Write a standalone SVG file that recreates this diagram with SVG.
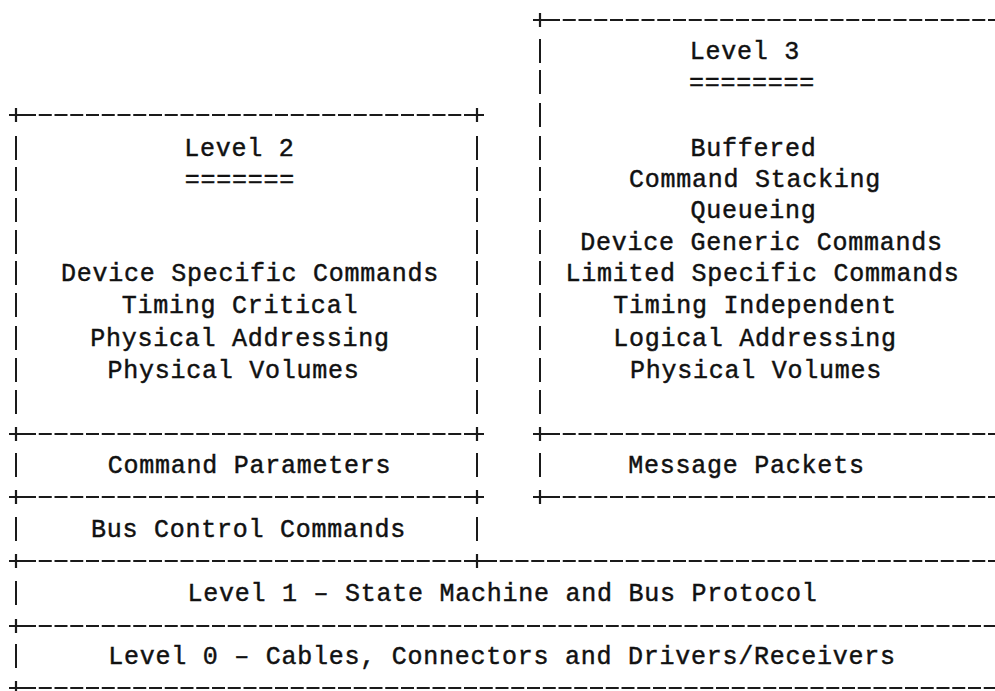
<svg xmlns="http://www.w3.org/2000/svg" width="995" height="691" viewBox="0 0 995 691">
<style>
.h{fill:none;stroke:#1a1a1a;stroke-width:2.2;stroke-dasharray:13 2.75}
.p{fill:none;stroke:#1a1a1a;stroke-width:2.2}
.v{fill:none;stroke:#1a1a1a;stroke-width:2}
text{font-family:"Liberation Mono","DejaVu Sans Mono",monospace;font-size:25px;letter-spacing:0.75px;fill:#111;stroke:#111;stroke-width:0.45;text-anchor:middle}
</style>
<rect width="995" height="691" fill="#fff"/>
<g id="connectors"/>
<g id="level3">
<path class="h" d="M547 20H995"/>
<path class="p" d="M533 20h14M540 13v14"/>
<path class="v" d="M540 39v24M540 70v24M540 103v24M540 136v24M540 167v24M540 198v24M540 230v24M540 261v24M540 293v24M540 326v24M540 358v24M540 390v24"/>
<path class="h" d="M547 434H995"/>
<path class="p" d="M533 434h14M540 427v14"/>
<text x="745" y="59">Level 3</text>
<text x="752" y="90">========</text>
<text x="753.5" y="156">Buffered</text>
<text x="755" y="187">Command Stacking</text>
<text x="753.5" y="218">Queueing</text>
<text x="761.5" y="250">Device Generic Commands</text>
<text x="762.5" y="281">Limited Specific Commands</text>
<text x="755" y="313">Timing Independent</text>
<text x="755" y="346">Logical Addressing</text>
<text x="756" y="378">Physical Volumes</text>
</g>
<g id="level2">
<path class="h" d="M23 115H470M23 434H470"/>
<path class="p" d="M9 115h14M16 108v14M470 115h14M477 108v14M9 434h14M16 427v14M470 434h14M477 427v14"/>
<path class="v" d="M16 136v24M16 167v24M16 198v24M16 230v24M16 261v24M16 293v24M16 326v24M16 358v24M16 390v24M477 136v24M477 167v24M477 198v24M477 230v24M477 261v24M477 293v24M477 326v24M477 358v24M477 390v24"/>
<text x="239.5" y="156">Level 2</text>
<text x="240" y="187">=======</text>
<text x="250" y="281">Device Specific Commands</text>
<text x="240" y="313">Timing Critical</text>
<text x="240" y="346">Physical Addressing</text>
<text x="233.5" y="378">Physical Volumes</text>
</g>
<g id="command-parameters">
<path class="v" d="M16 453v24M477 453v24"/>
<path class="h" d="M23 497H470"/>
<path class="p" d="M9 497h14M16 490v14M470 497h14M477 490v14"/>
<text x="249.5" y="473">Command Parameters</text>
</g>
<g id="message-packets">
<path class="v" d="M540 453v24"/>
<path class="h" d="M547 497H995"/>
<path class="p" d="M533 497h14M540 490v14"/>
<text x="746.5" y="473">Message Packets</text>
</g>
<g id="bus-control">
<path class="v" d="M16 517v24M477 517v24"/>
<text x="248.5" y="537">Bus Control Commands</text>
</g>
<g id="level1">
<path class="h" d="M23 561H470M484 561H995"/>
<path class="p" d="M9 561h14M16 554v14M470 561h14M477 554v14"/>
<path class="v" d="M16 581v24"/>
<text x="502.5" y="601">Level 1 – State Machine and Bus Protocol</text>
</g>
<g id="level0">
<path class="h" d="M23 626H995M23 688H995"/>
<path class="p" d="M9 626h14M16 619v14M9 688h14M16 681v14"/>
<path class="v" d="M16 644v24"/>
<text x="502" y="664">Level 0 – Cables, Connectors and Drivers/Receivers</text>
</g>
</svg>
